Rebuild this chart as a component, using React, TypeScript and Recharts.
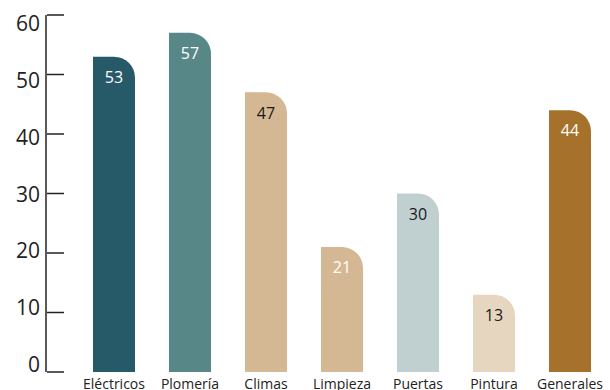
import { BarChart, Bar, XAxis, YAxis, Cell, LabelList } from 'recharts';

const categories = ['Eléctricos', 'Plomería', 'Climas', 'Limpieza', 'Puertas', 'Pintura', 'Generales'];
const values = [53, 57, 47, 21, 30, 13, 44];
const barColors = ['#275a69', '#578786', '#d4b793', '#d4b793', '#c0cfd0', '#e6d6c0', '#a5712b'];
const labelColors = ['#ffffff', '#ffffff', '#1a1a1a', '#ffffff', '#1a1a1a', '#1a1a1a', '#ffffff'];
const yTicks = [0, 10, 20, 30, 40, 50, 60];

const chartData = categories.map((name, i) => ({ name, value: values[i], idx: i }));

const FONT = '"Open Sans", "Noto Sans", sans-serif';

// tick labels sit a bit off their tick marks, drifting from below (top) to above (bottom)
const YTick = ({ x, y, payload }: any) => (
  <g>
    <line x1={x + 7} x2={x + 24} y1={y} y2={y} stroke="#222" strokeWidth={1.5} />
    <text
      x={x}
      y={y + (payload.value - 30) * 0.27}
      textAnchor="end"
      dominantBaseline="central"
      fill="#222"
      fontSize={21}
      fontFamily={FONT}
    >
      {payload.value}
    </text>
  </g>
);

const ValueLabel = ({ x, y, width, value, index }: any) => (
  <text
    x={x + width / 2}
    y={y + 22}
    textAnchor="middle"
    dominantBaseline="middle"
    fill={labelColors[index]}
    fontSize={16}
    fontFamily={FONT}
  >
    {value}
  </text>
);

export default function App() {
  return (
    <div style={{ position: 'absolute', left: 0, top: 0, background: '#fff' }}>
      <BarChart width={610} height={390} data={chartData} margin={{ top: 15, right: 2, left: 0, bottom: 0 }}>
        <XAxis
          dataKey="name"
          axisLine={false}
          tickLine={false}
          tickSize={0}
          tickMargin={7}
          height={18}
          interval={0}
          padding={{ left: 30, right: 0 }}
          tick={{ fill: '#222', fontSize: 14, fontFamily: FONT }}
        />
        <YAxis
          width={46}
          domain={[0, 60]}
          ticks={yTicks}
          interval={0}
          axisLine={{ stroke: '#222', strokeWidth: 1.5 }}
          tickLine={false}
          tickSize={0}
          tickMargin={6}
          tick={<YTick />}
        />
        <Bar dataKey="value" barSize={42} radius={[0, 21, 0, 0]} isAnimationActive={false}>
          {chartData.map((d) => (
            <Cell key={d.name} fill={barColors[d.idx]} />
          ))}
          <LabelList dataKey="value" content={<ValueLabel />} />
        </Bar>
      </BarChart>
    </div>
  );
}
